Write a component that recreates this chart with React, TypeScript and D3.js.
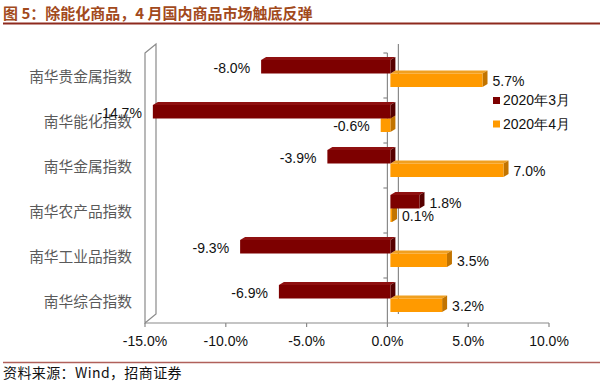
import React from "react";
import * as d3 from "d3";

const categories = ["南华贵金属指数", "南华能化指数", "南华金属指数", "南华农产品指数", "南华工业品指数", "南华综合指数"];
const seriesNames = ["2020年3月", "2020年4月"];
const march = [-8.0, -14.7, -3.9, 1.8, -9.3, -6.9];
const april = [5.7, -0.6, 7.0, 0.1, 3.5, 3.2];
const ticks = [-15, -10, -5, 0, 5, 10];

const colors = [
  { front: "#7d0000", top: "#8f1010", side: "#560000" },
  { front: "#ff9a00", top: "#f0a020", side: "#c27400" },
];

const W = 600, H = 382;
const fontLatin = "'Liberation Sans', Arial, sans-serif";
const fontCJK = "'Noto Sans CJK SC', sans-serif";

export default function App() {
  const x = d3.scaleLinear().domain([-15, 10]).range([145, 549]);
  const y = d3.scaleBand<string>().domain(categories).range([53, 323]).paddingInner(0).paddingOuter(0);
  const sy = d3.scaleBand<string>().domain(seriesNames).range([7, 34]);
  const dx = 5, dy = -3, off = 3;
  const wdx = 11, wdy = -9;
  const axisColor = "#8a8a8a";
  const x0 = x(0);
  const series = [march, april];

  const bars: React.ReactNode[] = [];
  const labels: React.ReactNode[] = [];
  [1, 0].forEach((si) => {
    series[si].forEach((v, ci) => {
      const cat = categories[ci];
      const yy = (y(cat) as number) + (sy(seriesNames[si]) as number);
      const h = sy.bandwidth();
      const xa = x(Math.min(0, v)) + off;
      const xb = x(Math.max(0, v)) + off;
      const c = colors[si];
      bars.push(
        <g key={`b${si}-${ci}`}>
          <polygon points={`${xa},${yy} ${xa + dx},${yy + dy} ${xb + dx},${yy + dy} ${xb},${yy}`} fill={c.top} />
          <polygon points={`${xb},${yy} ${xb + dx},${yy + dy} ${xb + dx},${yy + h + dy} ${xb},${yy + h}`} fill={c.side} />
          <rect x={xa} y={yy} width={xb - xa} height={h} fill={c.front} />
        </g>
      );
      const cy = yy + h / 2 + 1;
      const txt = `${v.toFixed(1)}%`;
      labels.push(
        v < 0 ? (
          <text key={`l${si}-${ci}`} x={xa - 11} y={cy} dy="0.35em" textAnchor="end" fontSize={14} fontFamily={fontLatin} fill="#111">{txt}</text>
        ) : (
          <text key={`l${si}-${ci}`} x={xb + dx + 5} y={cy} dy="0.35em" textAnchor="start" fontSize={14} fontFamily={fontLatin} fill="#111">{txt}</text>
        )
      );
    });
  });

  const top = 53, bottom = 323;
  const left = x(-15);

  return (
    <svg width={W} height={H} style={{ position: "absolute", left: 0, top: 0, background: "#fff" }}>
      <rect width={W} height={H} fill="#fff" />
      <text x={3} y={19} fontSize={15} fontWeight="bold" fontFamily={fontCJK} fill="#a24a1c">图 5：除能化商品，4 月国内商品市场触底反弹</text>
      <line x1={3} x2={600} y1={23.5} y2={23.5} stroke="#8e2a1e" strokeWidth={2} />

      <polygon points={`${left},${top} ${left + wdx},${top + wdy} ${left + wdx},${bottom + wdy} ${left},${bottom}`} fill="#fff" stroke={axisColor} strokeWidth={1.2} />
      <line x1={x0 + wdx} x2={x0 + wdx} y1={top + wdy} y2={bottom + wdy} stroke={axisColor} strokeWidth={1.2} />
      <line x1={x0} x2={x0} y1={top} y2={bottom} stroke={axisColor} strokeWidth={1.2} />
      {categories.map((c, i) => (
        <line key={`ct${i}`} x1={x0 - 4} x2={x0} y1={y(c) as number} y2={y(c) as number} stroke={axisColor} strokeWidth={1.2} />
      ))}
      <line x1={left} x2={x(10)} y1={bottom} y2={bottom} stroke={axisColor} strokeWidth={1.2} />
      {ticks.map((t) => (
        <g key={`t${t}`}>
          <line x1={x(t)} x2={x(t)} y1={bottom} y2={bottom + 4} stroke={axisColor} strokeWidth={1.2} />
          <text x={x(t)} y={346} textAnchor="middle" fontSize={14} fontFamily={fontLatin} fill="#111">{`${t.toFixed(1)}%`}</text>
        </g>
      ))}

      {bars}

      {categories.map((c) => (
        <text key={`cl${c}`} x={132} y={(y(c) as number) + y.bandwidth() / 2 + 1} dy="0.35em" textAnchor="end" fontSize={14.7} fontFamily={fontCJK} fill="#5a5a5a">{c}</text>
      ))}

      {labels}

      {seriesNames.map((s, i) => (
        <g key={`lg${i}`}>
          <rect x={493} y={97 + i * 23.5} width={7} height={7} fill={colors[i].front} />
          <text x={503} y={100.5 + i * 23.5} dy="0.35em" fontSize={14} fontFamily={fontLatin} fill="#111">{s}</text>
        </g>
      ))}

      <line x1={3} x2={600} y1={362.5} y2={362.5} stroke="#b0605a" strokeWidth={1.5} />
      <text x={3} y={378} fontSize={14} fontFamily={fontCJK} fill="#111" letterSpacing={0.4}>资料来源：Wind，招商证券</text>
    </svg>
  );
}
